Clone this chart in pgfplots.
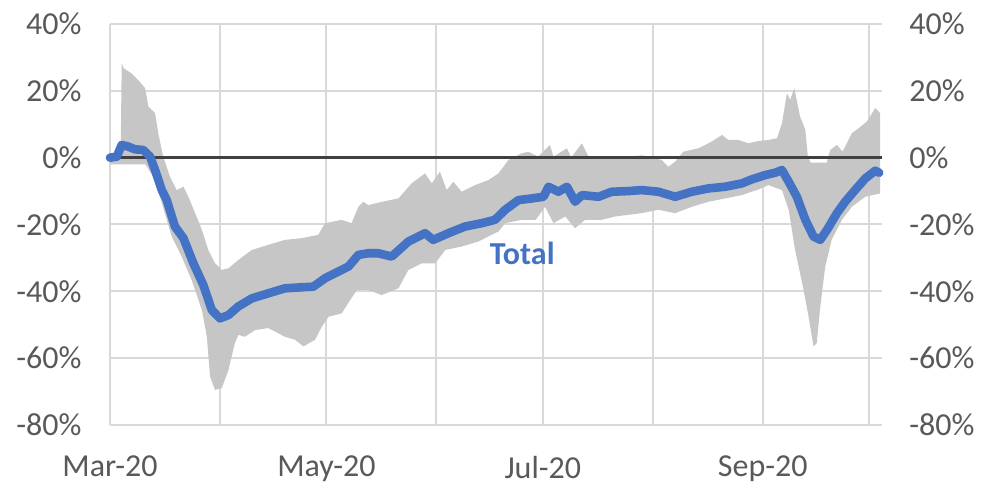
\documentclass[border=0pt]{standalone}
\usepackage{fontspec}
\setmainfont{Carlito}
\usepackage{pgfplots}
\pgfplotsset{compat=1.18}
\usepgfplotslibrary{fillbetween}
\definecolor{myblue}{HTML}{4472C4}
\definecolor{band}{HTML}{C6C6C6}
\definecolor{gridc}{HTML}{D9D9D9}
\definecolor{tickc}{HTML}{595959}
\definecolor{zeroc}{HTML}{404040}
\begin{document}
\begin{tikzpicture}
\begin{axis}[name=main,
  scale only axis, width=386bp, height=200.5bp,
  xmin=0, xmax=217.6, ymin=-80, ymax=40,
  xtick={0,31,61,92,122,153,184,214},
  xticklabels={Mar-20,,May-20,,Jul-20,,Sep-20,},
  ytick={-80,-60,-40,-20,0,20,40},
  yticklabels={-80\%,-60\%,-40\%,-20\%,0\%,20\%,40\%},
  grid=major, grid style={gridc, line width=1bp},
  axis line style={draw=none},
  major tick length=0pt,
  tick label style={font=\fontsize{16bp}{19bp}\selectfont, text=tickc},
  xticklabel style={yshift=-12bp},
  yticklabel style={xshift=-10.7bp},
  clip=false]
\addplot[name path=up, draw=none] coordinates {
(0,0.5) (3.0,0.5) (3.3,28.2) (3.9,26.7) (6.1,25.2) (8,23.2) (9.9,20.8) (10.8,15.3) (12.7,13.3) (13.6,7.3) (15,0.3) (16.9,-5.7) (18.8,-9.7) (20.7,-8.7) (22.1,-11.7) (24,-16.6) (25.9,-21.6) (27.7,-27.6) (29.6,-31.6) (31.5,-33.6) (33.4,-33.1) (36.2,-30.6) (40,-27.6) (44.6,-26.1) (49.3,-24.6) (54,-24.1) (58.7,-23.1) (60.6,-19.6) (65.3,-18.6) (68.1,-19.6) (70,-14.7) (71.4,-13.2) (72.8,-14.2) (76.6,-13.2) (81.3,-12.2) (85,-7.7) (88.8,-4.7) (90.7,-7.7) (93,-4.2) (94.9,-9.7) (96.8,-7.2) (99.1,-10.2) (102.9,-8.2) (106.7,-6.7) (109.5,-4.7) (112.3,-0.7) (116,1.3) (117.9,1.8) (120.7,0.3) (124,3.8) (125,0.3) (128.8,2.8) (130,0) (133,4.3) (135,0) (138.6,-0.2) (141,0.3) (146,0.3) (150,0.7) (155.5,-0.7) (157.4,-2.7) (159.3,-1.2) (161.6,1.8) (165.9,2.8) (169.6,4.8) (172.5,6.8) (174.3,5.3) (177.1,5.3) (180,4.3) (182.8,5.0) (185.6,5.3) (188,5.8) (189.4,10.3) (190.8,19.3) (191.7,17.3) (192.9,20.8) (194.5,12.3) (196,8.3) (196.7,0.3) (197.5,-1.5) (202,-1.5) (203,2.3) (204.9,3.8) (206.5,1.8) (209.1,7.3) (211,8.8) (213.3,10.8) (215.7,14.8) (217.1,13.3)
};
\addplot[name path=lo, draw=none] coordinates {
(0,-2) (10,-2) (12.7,-6.7) (14.6,-13.6) (17.4,-23.6) (20.2,-29.6) (23,-36.6) (25.9,-45.6) (27.3,-53.6) (28.2,-65.5) (29.6,-69.5) (31.5,-69.0) (33.4,-63.5) (35.2,-55.5) (36.2,-53) (38,-53.6) (40.9,-51.6) (44.6,-51.0) (49.3,-53.6) (52.2,-54.5) (54.5,-56.5) (57.8,-54.5) (59.7,-50.6) (61.6,-47.6) (65.3,-46.6) (67.7,-42.6) (69.6,-39.6) (72.8,-39.6) (76.6,-41.1) (81.3,-39.1) (84.1,-33.6) (87.9,-31.6) (91.7,-31.6) (94.5,-27.6) (99.1,-26.6) (103.8,-25.1) (107.6,-23.1) (109.5,-22.1) (111.4,-19.6) (116,-18.6) (120,-18.6) (122.6,-14.7) (125,-19.6) (128.3,-17.6) (131.1,-21.1) (133.9,-18.6) (138.6,-18.6) (142.4,-17.6) (146.1,-17.1) (149.9,-16.6) (154.6,-15.6) (159.3,-16.6) (164,-14.7) (168.7,-13.2) (173.4,-12.2) (178.1,-11.2) (182.8,-9.5) (185.6,-8.2) (189.4,-9.7) (191.3,-15.6) (193.1,-27.6) (195.5,-39.6) (196.9,-47.6) (198.3,-56.5) (199.2,-55.5) (200.2,-44.6) (201.6,-32.6) (203.4,-24.6) (206.3,-18.6) (209.1,-14.7) (212.9,-11.7) (217.1,-10.7)
};
\addplot[band, draw=none] fill between[of=up and lo];
\addplot[zeroc, line width=1.3bp] coordinates {(0,0) (217.6,0)};
\addplot[myblue, line width=4.3bp, line join=round, line cap=round] coordinates {
(0,0) (1.9,0.3) (3.3,3.8) (5.2,3.3) (7,2.5) (9.4,2.3) (11.3,0.3) (12.7,-3.7) (14.6,-9.7) (16,-12.7) (18.3,-20.6) (20.7,-24.1) (23.5,-31.6) (26.3,-38.1) (28.7,-45.6) (31,-48.1) (33.4,-47.1) (36.2,-44.5) (40,-42.1) (44.6,-40.6) (49.3,-39.1) (54,-38.8) (57.3,-38.6) (60.6,-36.1) (63.4,-34.6) (67.2,-32.6) (70,-29.1) (72.8,-28.6) (75.6,-28.6) (79.4,-29.6) (84.1,-25.1) (88.8,-22.6) (91.1,-24.6) (95.4,-22.6) (100.1,-20.6) (104.8,-19.6) (108.5,-18.6) (111.4,-15.6) (115.1,-12.7) (118.9,-12.2) (122.2,-11.7) (123.6,-8.7) (126.4,-10.2) (128.8,-8.7) (131.1,-13.2) (133,-11.2) (137.7,-11.7) (141.4,-10.2) (146.1,-10.0) (149.9,-9.7) (154.6,-10.2) (159.3,-11.7) (164,-10.2) (168.7,-9.2) (173.4,-8.7) (178.1,-7.7) (180.9,-6.5) (184.7,-5.2) (187.5,-4.5) (189.4,-3.7) (191.3,-7.2) (193.6,-11.7) (196,-18.6) (198.3,-23.6) (200.2,-24.6) (202.1,-21.6) (204.9,-16.6) (207.2,-13.2) (210,-9.7) (212.9,-6.2) (215.7,-3.9) (216.8,-4.5)
};
\node[font=\bfseries\fontsize{16bp}{19bp}\selectfont, text=myblue] at (axis cs:116.2,-28.5) {Total};
\end{axis}
\begin{axis}[
  scale only axis, width=386bp, height=200.5bp,
  xmin=0, xmax=217.6, ymin=-80, ymax=40,
  axis x line=none, axis y line*=right,
  ytick={-80,-60,-40,-20,0,20,40},
  yticklabels={-80\%,-60\%,-40\%,-20\%,0\%,20\%,40\%},
  axis line style={draw=none},
  major tick length=0pt,
  tick label style={font=\fontsize{16bp}{19bp}\selectfont, text=tickc},
  yticklabel style={xshift=10.2bp}]
\addplot[draw=none] coordinates {(0,0)};
\end{axis}
\pgfresetboundingbox
\path ([xshift=-55bp, yshift=-31bp]main.south west) rectangle ([xshift=51.5bp, yshift=12bp]main.north east);
\end{tikzpicture}
\end{document}
